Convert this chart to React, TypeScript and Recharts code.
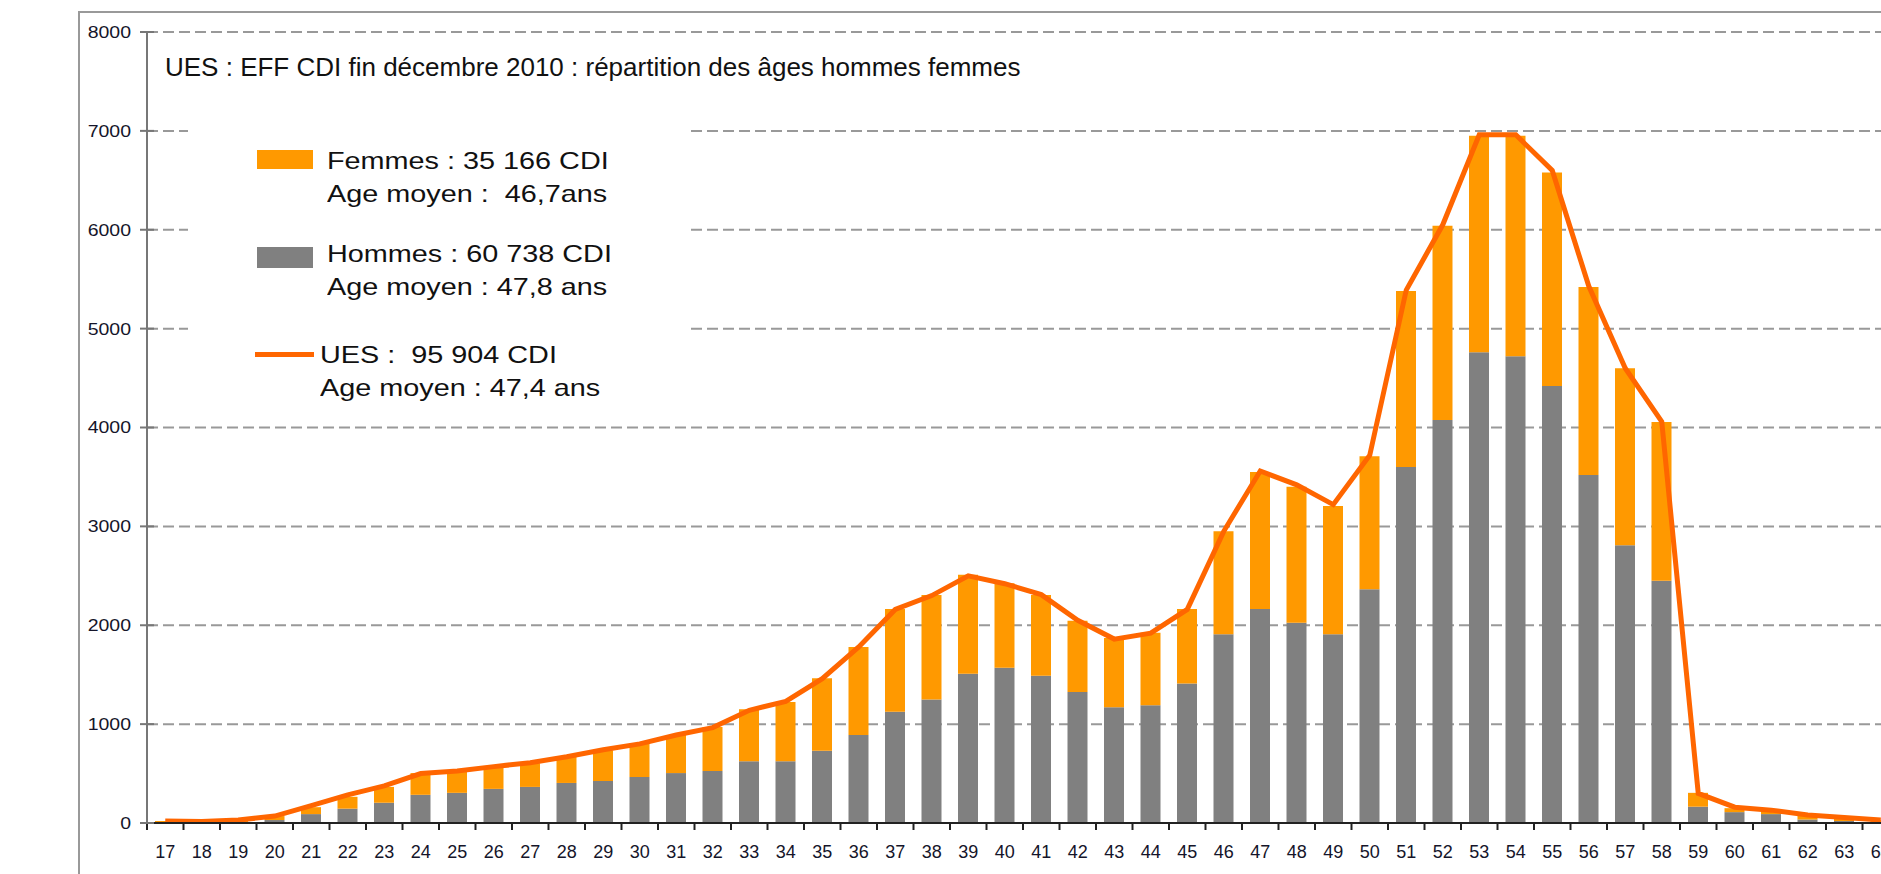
import React from "react";
import { ComposedChart, Bar, Line, XAxis, YAxis, CartesianGrid, Legend } from "recharts";

const AGES = [
  "17", "18", "19", "20", "21", "22", "23", "24", "25", "26", "27", "28",
  "29", "30", "31", "32", "33", "34", "35", "36", "37", "38", "39", "40",
  "41", "42", "43", "44", "45", "46", "47", "48", "49", "50", "51", "52",
  "53", "54", "55", "56", "57", "58", "59", "60", "61", "62", "63", "64",
];

const HOMMES = [
  0, 0, 5, 30, 90, 145, 205, 285, 305, 345, 365, 405,
  425, 465, 505, 525, 625, 625, 730, 890, 1125, 1250, 1510, 1570,
  1490, 1325, 1170, 1190, 1410, 1910, 2165, 2025, 1910, 2365, 3600, 4075,
  4760, 4720, 4420, 3520, 2810, 2450, 165, 110, 90, 35, 20, 10,
];

const FEMMES = [
  20, 15, 25, 40, 70, 120, 160, 220, 215, 225, 240, 265,
  310, 340, 385, 445, 525, 600, 735, 890, 1040, 1055, 1000, 855,
  815, 720, 700, 735, 755, 1040, 1385, 1375, 1295, 1345, 1780, 1965,
  2190, 2230, 2160, 1900, 1790, 1605, 140, 40, 40, 45, 30, 20,
];

const UES = [
  20, 15, 30, 70, 175, 285, 375, 500, 525, 570, 610, 670,
  740, 800, 890, 965, 1140, 1230, 1460, 1780, 2160, 2300, 2500, 2420,
  2310, 2050, 1860, 1920, 2160, 2950, 3560, 3420, 3220, 3720, 5390, 6050,
  6960, 6960, 6600, 5430, 4600, 4060, 300, 160, 130, 80, 55, 30,
];

const Y_TICKS = [0, 1000, 2000, 3000, 4000, 5000, 6000, 7000, 8000];

const TITLE = "UES : EFF CDI fin décembre 2010 : répartition des âges hommes femmes";

const data = AGES.map((age, i) => ({
  age,
  hommes: HOMMES[i],
  femmes: FEMMES[i],
  ues: UES[i],
}));

// layout
const CHART_W = 1900;
const CHART_H = 874;
const MARGIN = { top: 32, right: 1, bottom: 11, left: 47 };
const Y_AXIS_W = 100;
const X_AXIS_H = 40;
const AXIS_X = MARGIN.left + Y_AXIS_W;
const AXIS_Y = CHART_H - MARGIN.bottom - X_AXIS_H;
const PLOT_W = CHART_W - AXIS_X - MARGIN.right;
const BAND = PLOT_W / AGES.length;

const FONT = "'Liberation Sans', Arial, sans-serif";
const INK = "#15152a";
const ORANGE = "#ff9900";
const GREY = "#808080";
const LINE = "#ff6600";

function AgeTick(props: any) {
  const { x, payload, index } = props;
  const right = x + BAND / 2;
  return (
    <g>
      {index === 0 && (
        <line x1={x - BAND / 2} x2={x - BAND / 2} y1={AXIS_Y} y2={AXIS_Y + 7} stroke="#222" strokeWidth={2} />
      )}
      <line x1={right} x2={right} y1={AXIS_Y} y2={AXIS_Y + 7} stroke="#222" strokeWidth={2} />
      <text x={x} y={AXIS_Y + 35} textAnchor="middle" fontSize={18} fontFamily={FONT} fill={INK}>
        {payload.value}
      </text>
    </g>
  );
}

function CountTick(props: any) {
  const { y, payload } = props;
  return (
    <g>
      <line x1={AXIS_X - 7} x2={AXIS_X + 7} y1={y} y2={y} stroke="#777" strokeWidth={2} />
      <text
        transform={`translate(${AXIS_X - 16} ${y}) scale(1.18 1)`}
        textAnchor="end"
        dy="0.36em"
        fontSize={16.5}
        fontFamily={FONT}
        fill={INK}
      >
        {payload.value}
      </text>
    </g>
  );
}

const txt: React.CSSProperties = {
  position: "absolute",
  fontFamily: FONT,
  fontSize: 24,
  lineHeight: "24px",
  color: "#111",
  whiteSpace: "pre",
  transform: "scaleX(1.2)",
  transformOrigin: "left top",
};

function LegendBox() {
  return (
    <div style={{ position: "relative", width: 503, height: 300, background: "#fff" }}>
      <div style={{ position: "absolute", left: 69, top: 40, width: 56, height: 19, background: ORANGE }} />
      <div style={{ ...txt, left: 139, top: 39 }}>Femmes : 35 166 CDI</div>
      <div style={{ ...txt, left: 139, top: 72 }}>Age moyen :  46,7ans</div>
      <div style={{ position: "absolute", left: 69, top: 137, width: 56, height: 21, background: GREY }} />
      <div style={{ ...txt, left: 139, top: 132 }}>Hommes : 60 738 CDI</div>
      <div style={{ ...txt, left: 139, top: 165 }}>Age moyen : 47,8 ans</div>
      <div style={{ position: "absolute", left: 67, top: 242, width: 59, height: 5, background: LINE }} />
      <div style={{ ...txt, left: 132, top: 233 }}>UES :  95 904 CDI</div>
      <div style={{ ...txt, left: 132, top: 266 }}>Age moyen : 47,4 ans</div>
    </div>
  );
}

export default function App() {
  return (
    <div
      style={{
        position: "fixed",
        left: 0,
        top: 0,
        width: 1881,
        height: 874,
        overflow: "hidden",
        background: "#fff",
      }}
    >
      <div
        style={{
          position: "absolute",
          left: 78,
          top: 11,
          width: 2000,
          height: 1000,
          borderLeft: "2px solid #999",
          borderTop: "2px solid #999",
        }}
      />
      <div style={{ position: "absolute", left: 0, top: 0 }}>
        <ComposedChart width={CHART_W} height={CHART_H} data={data} margin={MARGIN}>
          <CartesianGrid vertical={false} stroke="#999" strokeWidth={2} strokeDasharray="11 5" />
          <XAxis
            dataKey="age"
            height={X_AXIS_H}
            interval={0}
            tickLine={false}
            axisLine={{ stroke: "#222", strokeWidth: 2 }}
            tick={<AgeTick />}
          />
          <YAxis
            width={Y_AXIS_W}
            domain={[0, 8000]}
            ticks={Y_TICKS}
            interval={0}
            tickLine={false}
            axisLine={{ stroke: "#777", strokeWidth: 2 }}
            tick={<CountTick />}
          />
          <Legend
            layout="vertical"
            align="center"
            verticalAlign="middle"
            content={() => <LegendBox />}
            wrapperStyle={{ left: 188, top: 110, width: 503, height: 300 }}
          />
          <Bar dataKey="hommes" stackId="a" fill={GREY} barSize={20} isAnimationActive={false} />
          <Bar dataKey="femmes" stackId="a" fill={ORANGE} barSize={20} isAnimationActive={false} />
          <Line
            type="linear"
            dataKey="ues"
            stroke={LINE}
            strokeWidth={5}
            dot={false}
            activeDot={false}
            isAnimationActive={false}
          />
        </ComposedChart>
      </div>
      <div
        style={{
          position: "absolute",
          left: 165,
          top: 54,
          fontFamily: FONT,
          fontSize: 26,
          lineHeight: "26px",
          color: "#111",
          whiteSpace: "pre",
        }}
      >
        {TITLE}
      </div>
    </div>
  );
}
